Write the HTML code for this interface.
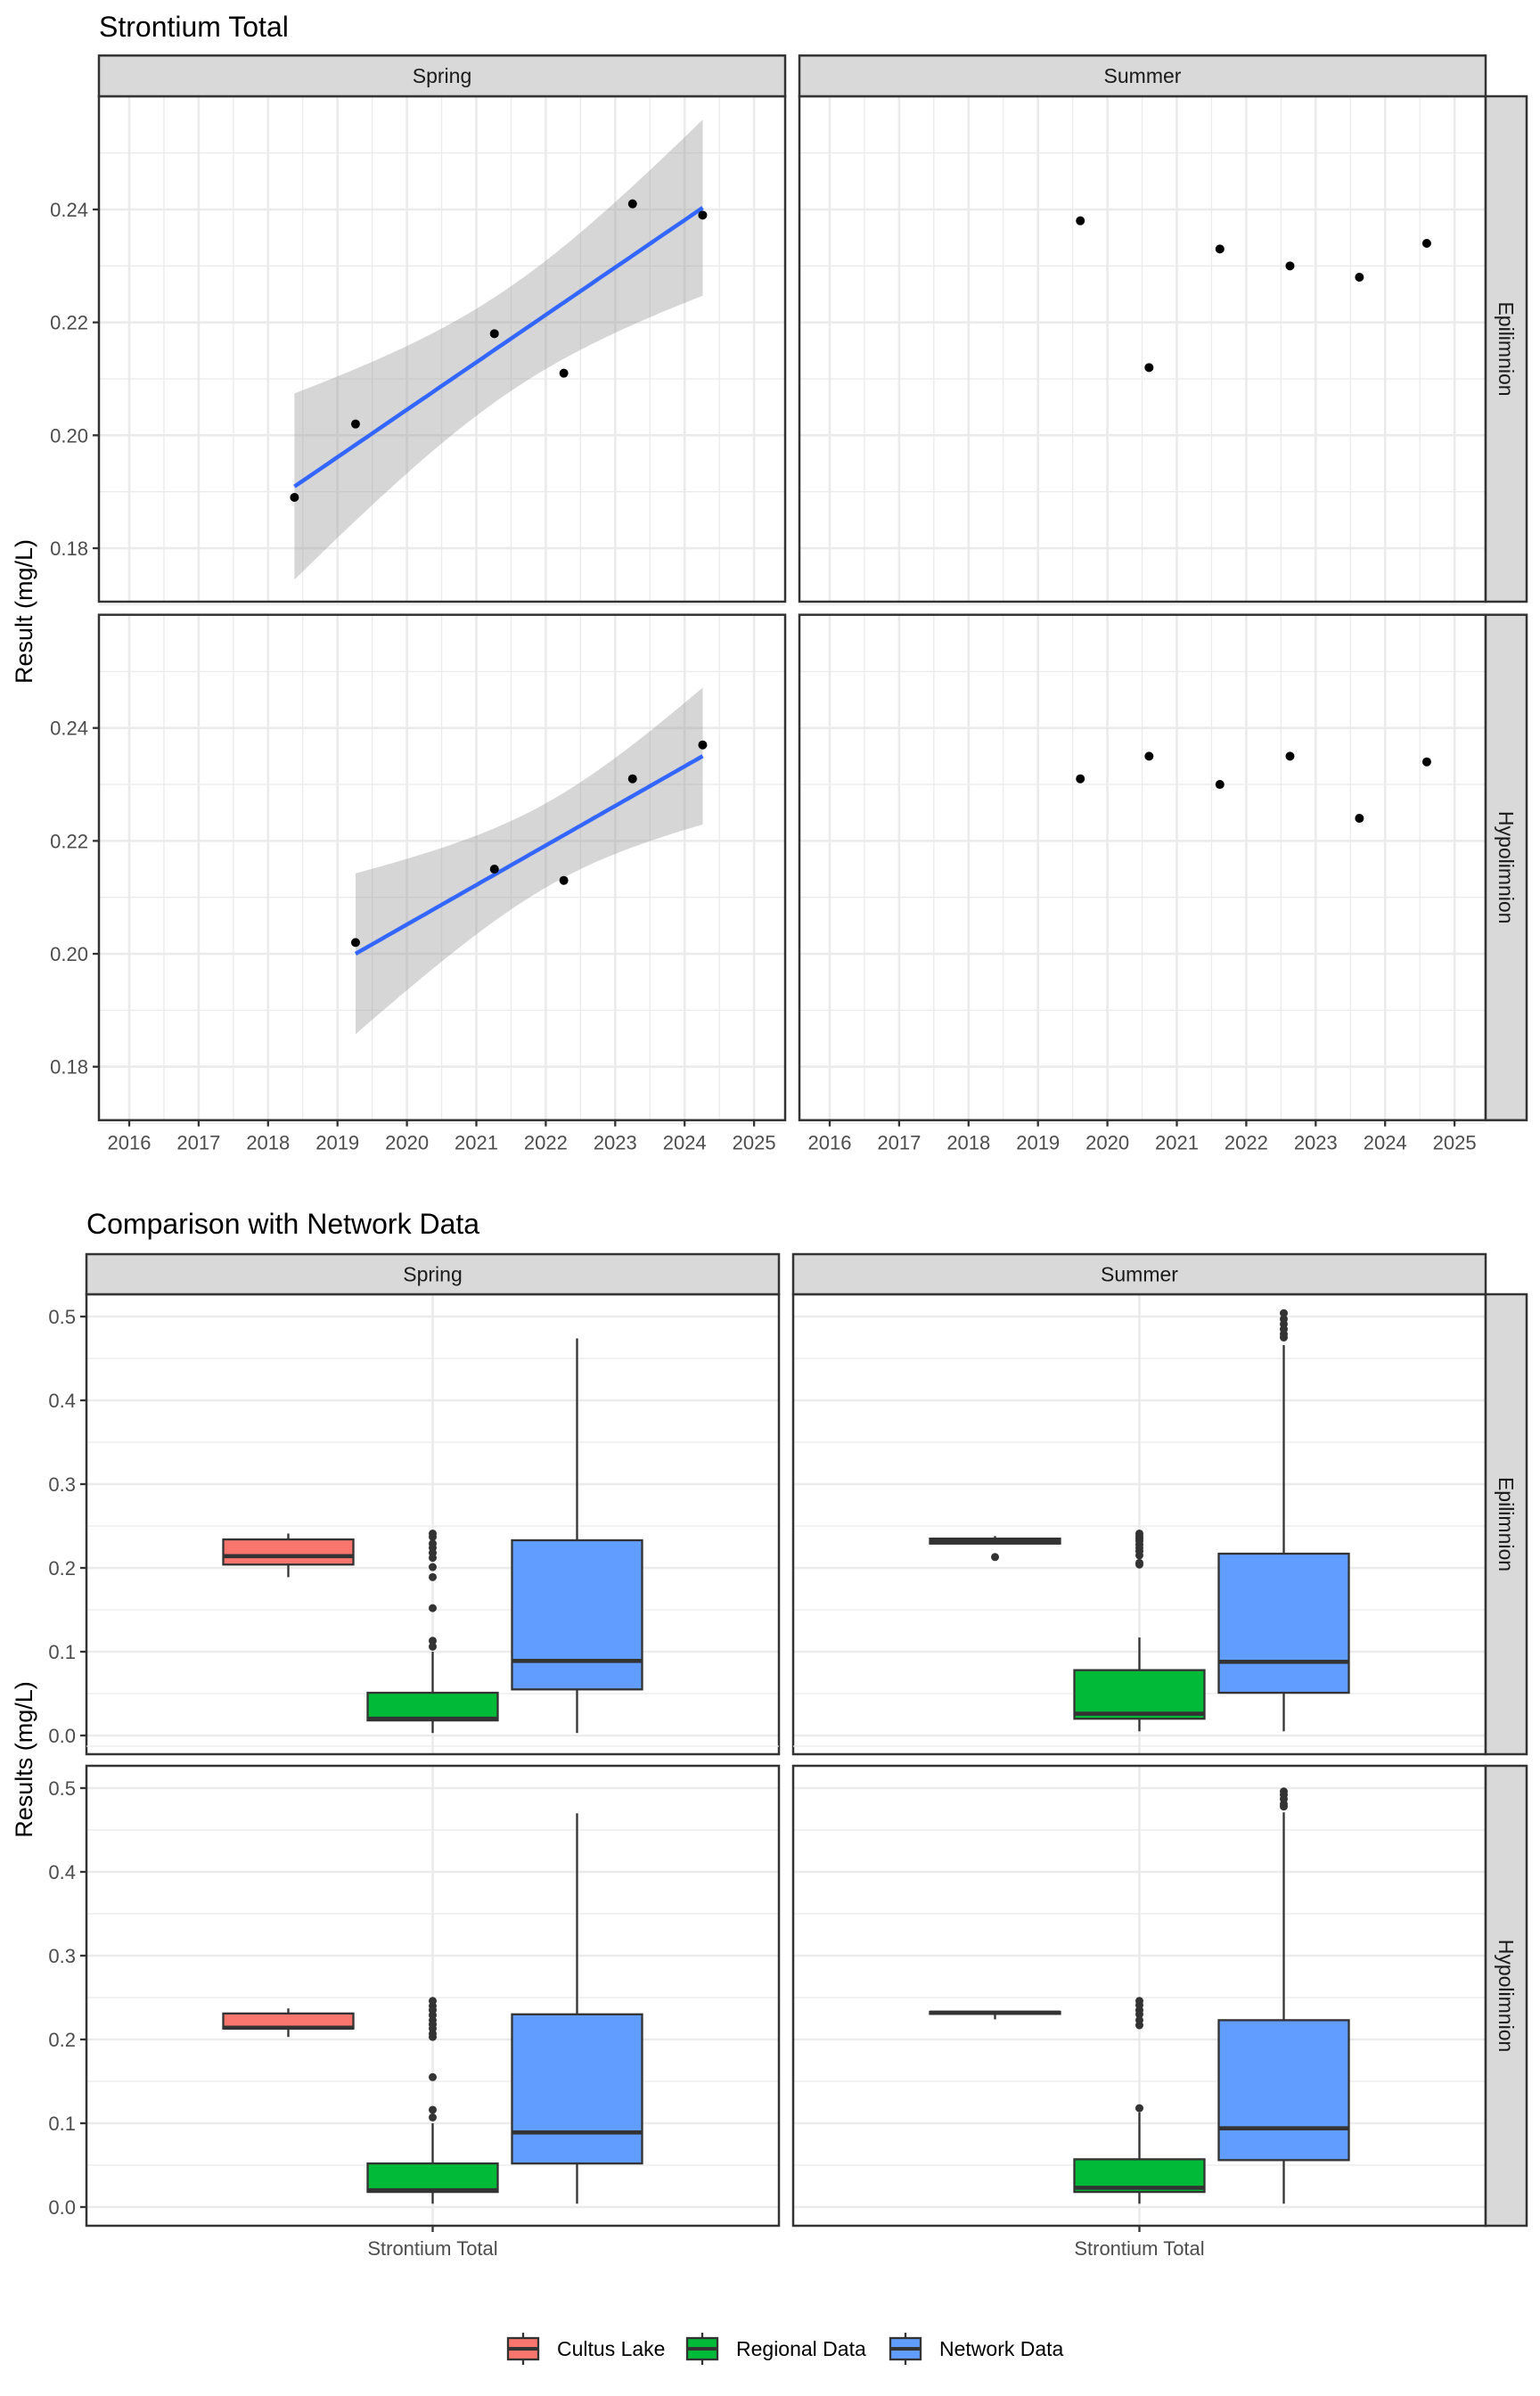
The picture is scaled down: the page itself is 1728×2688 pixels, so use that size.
<!DOCTYPE html>
<html><head><meta charset="utf-8"><title>Strontium Total</title>
<style>
html,body{margin:0;padding:0;background:#fff;}
svg{display:block;font-family:"Liberation Sans",Arial,sans-serif;}
</style></head>
<body>
<svg id="chart" xmlns="http://www.w3.org/2000/svg" width="1728" height="2688" viewBox="0 0 1728 2688">
<rect x="0" y="0" width="1728" height="2688" fill="#fff"/>
<text x="111" y="41" font-size="32" fill="#000">Strontium Total</text>
<text x="97" y="1384" font-size="32" fill="#000">Comparison with Network Data</text>
<text transform="translate(36,686) rotate(-90)" text-anchor="middle" font-size="27" fill="#000">Result (mg/L)</text>
<text transform="translate(36,1974) rotate(-90)" text-anchor="middle" font-size="27" fill="#000">Results (mg/L)</text>
<g id="topchart"></g>
<g id="bottomchart"></g>
<g id="legend"></g>
</svg>
<script>
// ---------- Top chart data ----------
const trendSeasons = ["Spring", "Summer"];
const trendLayers = ["Epilimnion", "Hypolimnion"];
const springEpiYears = [2018.38, 2019.26, 2021.26, 2022.26, 2023.25, 2024.26];
const springEpiValues = [0.189, 0.202, 0.218, 0.211, 0.241, 0.239];
const springHypoYears = [2019.26, 2021.26, 2022.26, 2023.25, 2024.26];
const springHypoValues = [0.202, 0.215, 0.213, 0.231, 0.237];
const summerEpiYears = [2019.61, 2020.6, 2021.62, 2022.63, 2023.63, 2024.6];
const summerEpiValues = [0.238, 0.212, 0.233, 0.230, 0.228, 0.234];
const summerHypoYears = [2019.61, 2020.6, 2021.62, 2022.63, 2023.63, 2024.6];
const summerHypoValues = [0.231, 0.235, 0.230, 0.235, 0.224, 0.234];
const yearTicks = [2016, 2017, 2018, 2019, 2020, 2021, 2022, 2023, 2024, 2025];
const resultTicks = [0.18, 0.20, 0.22, 0.24];
const resultTickLabels = ["0.18", "0.20", "0.22", "0.24"];

// ---------- Bottom chart data ----------
const groups = ["Cultus Lake", "Regional Data", "Network Data"];
const groupColors = ["#F8766D", "#00BA38", "#619CFF"];
const compTicks = [0.0, 0.1, 0.2, 0.3, 0.4, 0.5];
const compTickLabels = ["0.0", "0.1", "0.2", "0.3", "0.4", "0.5"];
// [low whisker, Q1, median, Q3, high whisker]
const springEpiBoxes = [[0.189, 0.204, 0.214, 0.234, 0.241], [0.003, 0.018, 0.020, 0.051, 0.100], [0.003, 0.055, 0.089, 0.233, 0.474]];
const springEpiOutliers = [[], [0.241, 0.237, 0.229, 0.224, 0.218, 0.212, 0.201, 0.189, 0.152, 0.113, 0.106], []];
const summerEpiBoxes = [[0.229, 0.229, 0.232, 0.235, 0.238], [0.005, 0.020, 0.026, 0.078, 0.117], [0.005, 0.051, 0.088, 0.217, 0.466]];
const summerEpiOutliers = [[0.213], [0.241, 0.238, 0.235, 0.232, 0.228, 0.224, 0.220, 0.215, 0.206, 0.204], [0.504, 0.497, 0.491, 0.485, 0.479, 0.475]];
const springHypoBoxes = [[0.203, 0.213, 0.214, 0.231, 0.237], [0.004, 0.018, 0.020, 0.052, 0.100], [0.004, 0.052, 0.089, 0.230, 0.470]];
const springHypoOutliers = [[], [0.246, 0.240, 0.235, 0.229, 0.223, 0.218, 0.213, 0.207, 0.203, 0.155, 0.116, 0.107], []];
const summerHypoBoxes = [[0.224, 0.2305, 0.232, 0.233, 0.234], [0.004, 0.018, 0.023, 0.057, 0.113], [0.004, 0.056, 0.094, 0.223, 0.471]];
const summerHypoOutliers = [[], [0.246, 0.241, 0.235, 0.230, 0.223, 0.217, 0.118], [0.496, 0.492, 0.487, 0.481, 0.478]];

const NS = "http://www.w3.org/2000/svg";
function mk(parent, tag, attrs) {
  const e = document.createElementNS(NS, tag);
  for (const k in attrs) e.setAttribute(k, attrs[k]);
  parent.appendChild(e);
  return e;
}
const GRID = "#EBEBEB", DARK = "#333333";

function drawStrip(parent, x, y, w, h, label, vertical, name) {
  const g = mk(parent, "g", {});
  
  
  mk(g, "rect", {x: x, y: y, width: w, height: h, fill: "#D9D9D9", stroke: DARK, "stroke-width": 2.5});
  const t = mk(g, "text", {"font-size": 23, fill: "#1A1A1A", "text-anchor": "middle"});
  if (vertical) t.setAttribute("transform", "translate(" + (x + w / 2 - 8) + "," + (y + h / 2) + ") rotate(90)");
  else { t.setAttribute("x", x + w / 2); t.setAttribute("y", y + h / 2 + 8); }
  t.textContent = label;
}

// ---------- Top chart ----------
const topG = document.getElementById("topchart");
const tPanelX = [111, 897], tPanelW = 770;
const tPanelY = [108, 689.7], tPanelH = 567;
const tYmin = 0.17053, tYmax = 0.26005;
function tx(p, yr) { return tPanelX[p] + 34 + (yr - 2016) * 77.9; }
function ty(r, v) { return tPanelY[r] + (tYmax - v) / (tYmax - tYmin) * tPanelH; }
const tTable = {1: 12.706, 2: 4.303, 3: 3.182, 4: 2.776, 5: 2.571, 6: 2.447};

function smooth(g, p, r, xs, ys) {
  const n = xs.length;
  const mx = xs.reduce((a, b) => a + b, 0) / n, my = ys.reduce((a, b) => a + b, 0) / n;
  let sxx = 0, sxy = 0;
  for (let i = 0; i < n; i++) { sxx += (xs[i] - mx) ** 2; sxy += (xs[i] - mx) * (ys[i] - my); }
  const b = sxy / sxx, a = my - b * mx;
  let sse = 0;
  for (let i = 0; i < n; i++) sse += (ys[i] - a - b * xs[i]) ** 2;
  const s = Math.sqrt(sse / (n - 2)), tq = tTable[n - 2] || 2;
  const x0 = Math.min(...xs), x1 = Math.max(...xs);
  const up = [], lo = [], mid = [];
  for (let k = 0; k <= 80; k++) {
    const x = x0 + (x1 - x0) * k / 80;
    const f = a + b * x, se = s * Math.sqrt(1 / n + (x - mx) ** 2 / sxx);
    up.push(tx(p, x).toFixed(1) + "," + ty(r, f + tq * se).toFixed(1));
    lo.unshift(tx(p, x).toFixed(1) + "," + ty(r, f - tq * se).toFixed(1));
    mid.push(tx(p, x).toFixed(1) + "," + ty(r, f).toFixed(1));
  }
  const rib = mk(g, "polygon", {points: up.concat(lo).join(" "), fill: "#999999", "fill-opacity": 0.4});
  
  
  const ln = mk(g, "polyline", {points: mid.join(" "), fill: "none", stroke: "#3366FF", "stroke-width": 4.5});
  
  
}

const topSeries = [[[springEpiYears, springEpiValues], [springHypoYears, springHypoValues]],
                   [[summerEpiYears, summerEpiValues], [summerHypoYears, summerHypoValues]]];
for (let p = 0; p < 2; p++) {
  for (let r = 0; r < 2; r++) {
    const g = mk(topG, "g", {});
    
    
    const X = tPanelX[p], Y = tPanelY[r];
    mk(g, "rect", {x: X, y: Y, width: tPanelW, height: tPanelH, fill: "#fff"});
    for (let v = 0.17; v < 0.26; v += 0.02) mk(g, "line", {x1: X, x2: X + tPanelW, y1: ty(r, v), y2: ty(r, v), stroke: GRID, "stroke-width": 1.3});
    for (let yr = 2016.5; yr < 2025.5; yr += 1) mk(g, "line", {x1: tx(p, yr), x2: tx(p, yr), y1: Y, y2: Y + tPanelH, stroke: GRID, "stroke-width": 1.3});
    resultTicks.forEach(v => mk(g, "line", {x1: X, x2: X + tPanelW, y1: ty(r, v), y2: ty(r, v), stroke: GRID, "stroke-width": 2.6}));
    yearTicks.forEach(yr => mk(g, "line", {x1: tx(p, yr), x2: tx(p, yr), y1: Y, y2: Y + tPanelH, stroke: GRID, "stroke-width": 2.6}));
    const xs = topSeries[p][r][0], ys = topSeries[p][r][1];
    if (p === 0) smooth(g, p, r, xs, ys);
    xs.forEach((x, i) => {
      const c = mk(g, "circle", {cx: tx(p, x), cy: ty(r, ys[i]), r: 5, fill: "#000"});
      
      
    });
    mk(g, "rect", {x: X, y: Y, width: tPanelW, height: tPanelH, fill: "none", stroke: DARK, "stroke-width": 2.5});
    if (p === 0) {
      resultTicks.forEach((v, i) => {
        mk(g, "line", {x1: X - 7, x2: X, y1: ty(r, v), y2: ty(r, v), stroke: DARK, "stroke-width": 2.3});
        const t = mk(g, "text", {x: X - 12, y: ty(r, v) + 8, "text-anchor": "end", "font-size": 22, fill: "#4D4D4D"});
        
        
        t.textContent = resultTickLabels[i];
      });
    }
    if (r === 1) {
      yearTicks.forEach(yr => {
        mk(g, "line", {x1: tx(p, yr), x2: tx(p, yr), y1: Y + tPanelH, y2: Y + tPanelH + 7, stroke: DARK, "stroke-width": 2.3});
        const t = mk(g, "text", {x: tx(p, yr), y: Y + tPanelH + 33, "text-anchor": "middle", "font-size": 22, fill: "#4D4D4D"});
        
        
        t.textContent = String(yr);
      });
    }
  }
  drawStrip(topG, tPanelX[p], 62.3, tPanelW, 45.7, trendSeasons[p], false, 'strip-' + trendSeasons[p].toLowerCase());
}
for (let r = 0; r < 2; r++) drawStrip(topG, 1667, tPanelY[r], 46, tPanelH, trendLayers[r], true, 'strip-' + trendLayers[r].toLowerCase());

// ---------- Bottom chart ----------
const botG = document.getElementById("bottomchart");
const bPanelX = [97, 890], bPanelW = 777;
const bPanelY = [1452, 1981], bPanelH = 516;
const bZero = [1947, 2476], bPer = 940;
function by(r, v) { return bZero[r] - v * bPer; }
const boxData = [[[springEpiBoxes, springEpiOutliers], [springHypoBoxes, springHypoOutliers]],
                 [[summerEpiBoxes, summerEpiOutliers], [summerHypoBoxes, summerHypoOutliers]]];
for (let p = 0; p < 2; p++) {
  const cx = bPanelX[p] + bPanelW / 2;
  for (let r = 0; r < 2; r++) {
    const g = mk(botG, "g", {});
    
    
    const X = bPanelX[p], Y = bPanelY[r];
    mk(g, "rect", {x: X, y: Y, width: bPanelW, height: bPanelH, fill: "#fff"});
    for (let v = 0.05; v < 0.55; v += 0.1) mk(g, "line", {x1: X, x2: X + bPanelW, y1: by(r, v), y2: by(r, v), stroke: GRID, "stroke-width": 1.3});
    compTicks.forEach(v => mk(g, "line", {x1: X, x2: X + bPanelW, y1: by(r, v), y2: by(r, v), stroke: GRID, "stroke-width": 2.6}));
    mk(g, "line", {x1: cx, x2: cx, y1: Y, y2: Y + bPanelH, stroke: GRID, "stroke-width": 2.6});
    const boxes = boxData[p][r][0], outs = boxData[p][r][1];
    groups.forEach((name, k) => {
      const gx = cx + (k - 1) * 162, hw = 73;
      const s = boxes[k];
      const bg = mk(g, "g", {});
      
      
      mk(bg, "line", {x1: gx, x2: gx, y1: by(r, s[4]), y2: by(r, s[3]), stroke: DARK, "stroke-width": 2.3});
      mk(bg, "line", {x1: gx, x2: gx, y1: by(r, s[1]), y2: by(r, s[0]), stroke: DARK, "stroke-width": 2.3});
      mk(bg, "rect", {x: gx - hw, y: by(r, s[3]), width: 2 * hw, height: Math.max(0.5, by(r, s[1]) - by(r, s[3])), fill: groupColors[k], stroke: DARK, "stroke-width": 2.3});
      mk(bg, "line", {x1: gx - hw, x2: gx + hw, y1: by(r, s[2]), y2: by(r, s[2]), stroke: DARK, "stroke-width": 4.6});
      outs[k].forEach(v => {
        const c = mk(bg, "circle", {cx: gx, cy: by(r, v), r: 4.5, fill: DARK});
        
        
      });
    });
    mk(g, "rect", {x: X, y: Y, width: bPanelW, height: bPanelH, fill: "none", stroke: DARK, "stroke-width": 2.5});
    if (p === 0) {
      compTicks.forEach((v, i) => {
        mk(g, "line", {x1: X - 7, x2: X, y1: by(r, v), y2: by(r, v), stroke: DARK, "stroke-width": 2.3});
        const t = mk(g, "text", {x: X - 12, y: by(r, v) + 8, "text-anchor": "end", "font-size": 22, fill: "#4D4D4D"});
        
        
        t.textContent = compTickLabels[i];
      });
    }
    if (r === 1) {
      mk(g, "line", {x1: cx, x2: cx, y1: Y + bPanelH, y2: Y + bPanelH + 7, stroke: DARK, "stroke-width": 2.3});
      const t = mk(g, "text", {x: cx, y: Y + bPanelH + 33, "text-anchor": "middle", "font-size": 22, fill: "#4D4D4D"});
      
      
      t.textContent = "Strontium Total";
    }
  }
  drawStrip(botG, bPanelX[p], 1407, bPanelW, 45, trendSeasons[p], false, 'box-strip-' + trendSeasons[p].toLowerCase());
}
for (let r = 0; r < 2; r++) drawStrip(botG, 1667, bPanelY[r], 46, bPanelH, trendLayers[r], true, 'box-strip-' + trendLayers[r].toLowerCase());

// ---------- Legend ----------
const legG = document.getElementById("legend");
const keyX = [570, 771, 999], textX = [625, 826, 1054];
groups.forEach((name, k) => {
  const g = mk(legG, "g", {});
  
  
  const x = keyX[k];
  mk(g, "line", {x1: x + 17, x2: x + 17, y1: 2617, y2: 2653, stroke: DARK, "stroke-width": 2.3});
  mk(g, "rect", {x: x, y: 2623, width: 34, height: 24, fill: groupColors[k], stroke: DARK, "stroke-width": 2.3});
  mk(g, "line", {x1: x, x2: x + 34, y1: 2635, y2: 2635, stroke: DARK, "stroke-width": 4});
  const t = mk(g, "text", {x: textX[k], y: 2643, "font-size": 23, fill: "#000"});
  t.textContent = name;
});
</script>
</body></html>
